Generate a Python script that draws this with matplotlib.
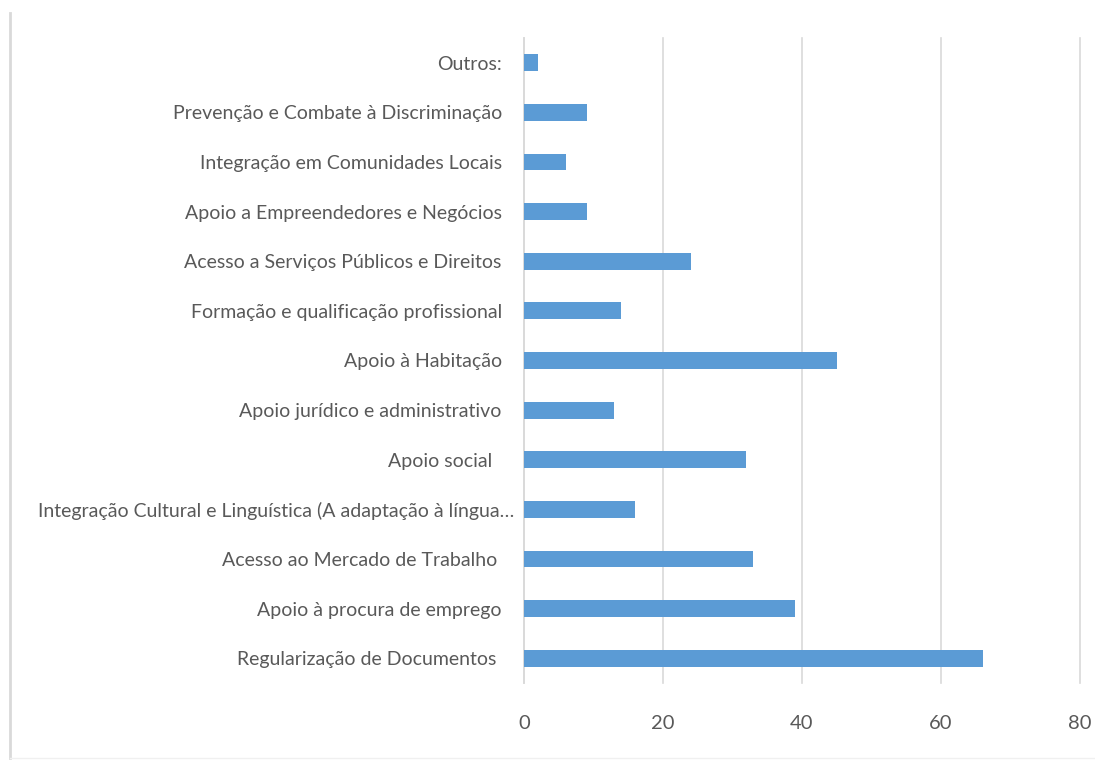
import matplotlib
matplotlib.use("Agg")
import matplotlib.pyplot as plt
import matplotlib.transforms as mtransforms
from matplotlib.lines import Line2D

# ----------------------------------------------------------------------
# Data (top category first, as shown in the chart)
# ----------------------------------------------------------------------
categories = [
    "Outros:",
    "Prevenção e Combate à Discriminação",
    "Integração em Comunidades Locais",
    "Apoio a Empreendedores e Negócios",
    "Acesso a Serviços Públicos e Direitos",
    "Formação e qualificação profissional",
    "Apoio à Habitação",
    "Apoio jurídico e administrativo",
    "Apoio social  ",
    "Integração Cultural e Linguística (A adaptação à língua…",
    "Acesso ao Mercado de Trabalho ",
    "Apoio à procura de emprego",
    "Regularização de Documentos ",
]
counts = [2, 9, 6, 9, 24, 14, 45, 13, 32, 16, 33, 39, 66]
x_ticks = [0, 20, 40, 60, 80]

BAR_COL = "#5B9BD5"
GRID_COL = "#D9D9D9"
TEXT_COL = "#595959"
FONT = ["Liberation Sans Narrow", "Lato", "DejaVu Sans"]

plt.rcParams["font.family"] = FONT

fig = plt.figure(figsize=(10.95, 7.61), dpi=100)
W, H = 1095, 761
# plot area in pixels: x 524..1080, y 38..683
ax = fig.add_axes([524 / W, 1 - 683 / H, (1080 - 524) / W, (683 - 38) / H])

y_pos = list(range(len(categories)))
ax.barh(y_pos, counts, height=0.34, color=BAR_COL, zorder=3)

ax.set_ylim(len(categories) - 0.5, -0.5)
ax.set_xlim(0, 80)
ax.set_xticks(x_ticks)
ax.set_yticks(y_pos)
ax.set_yticklabels(categories)

ax.grid(axis="x", color=GRID_COL, lw=1.2, zorder=0)
for gl in ax.get_xgridlines():
    gl.set_clip_on(False)
for side in ["top", "right", "bottom"]:
    ax.spines[side].set_visible(False)
ax.spines["left"].set_color(GRID_COL)
ax.spines["left"].set_linewidth(1.2)

ax.tick_params(axis="y", length=0, pad=16, labelsize=14, labelcolor=TEXT_COL)
ax.tick_params(axis="x", length=0, pad=23, labelsize=14.5, labelcolor=TEXT_COL)

# the truncated label sits closer to the axis, as in the source chart
long_lbl = ax.get_yticklabels()[9]
long_lbl.set_transform(long_lbl.get_transform()
                       + mtransforms.ScaledTranslation(12 / 100, 0, fig.dpi_scale_trans))

# Chart-area border fragments (left edge, bottom edge)
fig.add_artist(Line2D([10 / W, 10 / W], [1 - 13 / H, 1 - 758 / H],
                      color="#D9D9D9", lw=2.0, transform=fig.transFigure))
fig.add_artist(Line2D([10 / W, 1.0], [1 - 758 / H, 1 - 758 / H],
                      color="#F0F0F0", lw=1.0, transform=fig.transFigure))

fig.savefig("out.png", dpi=100, facecolor="white")
